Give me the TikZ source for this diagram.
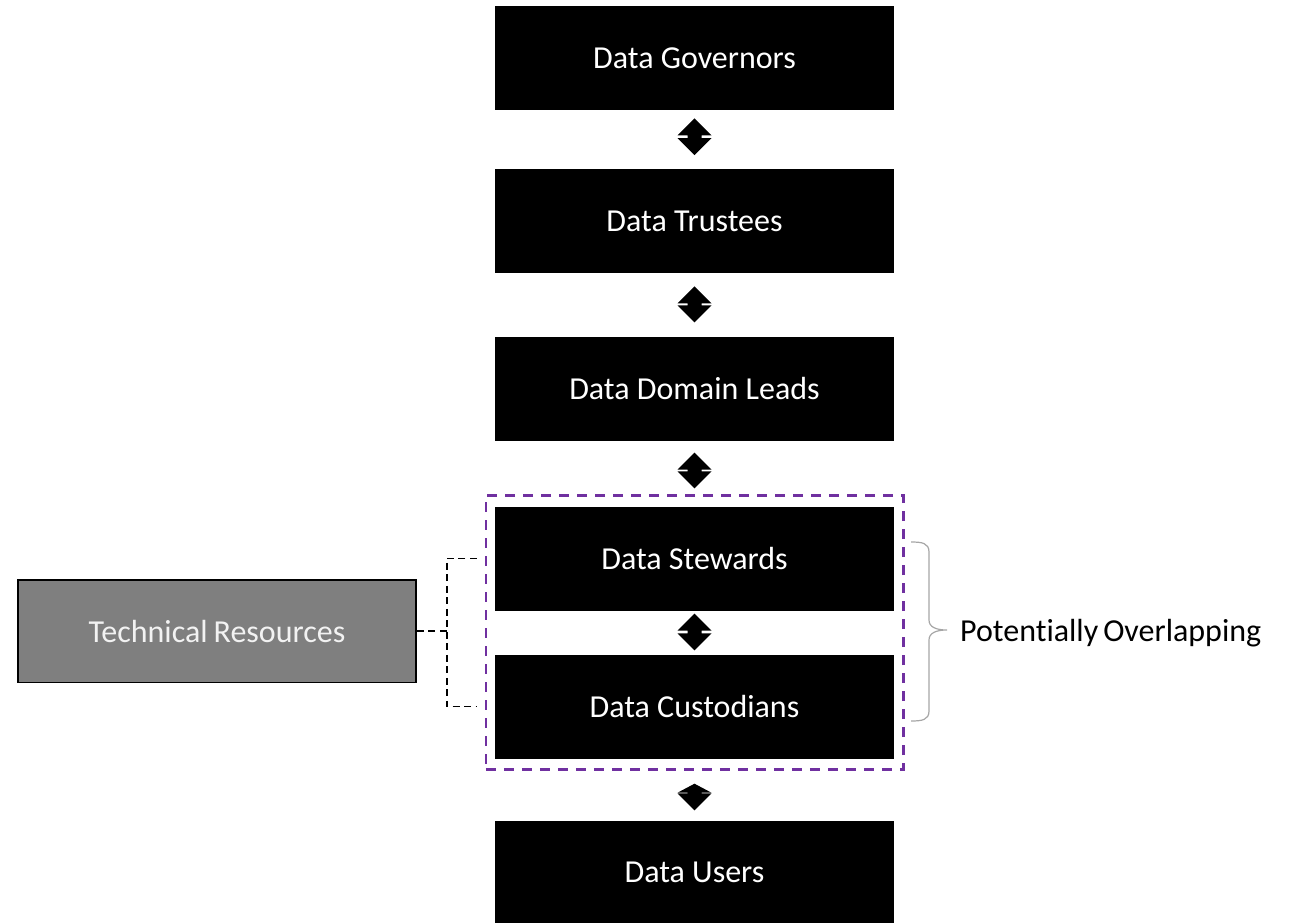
\documentclass[tikz,border=0pt]{standalone}
\usepackage{fontspec}
\setmainfont{Carlito}[Ligatures=NoCommon]
\usetikzlibrary{calc,fit}
\definecolor{grouppurple}{HTML}{7030A0}
\definecolor{techgray}{HTML}{7F7F7F}
\definecolor{techtext}{HTML}{F2F2F2}
\definecolor{bracegray}{HTML}{A6A6A6}
% two-headed block arrow from below node #1 to above node #2:
% #3 gap under #1, #4 gap over #2, #5 height of the upper head
\newcommand\levellink[5]{%
  \path ([yshift=-#3pt]#1.south) coordinate (lkS) ([yshift=#4pt]#2.north) coordinate (lkE);
  \fill[black] (lkS) -- ($(lkS)+(17,#5)$) -- ($(lkS)+(7,#5)$) -- ($(lkE)+(7,-17)$)
    -- ($(lkE)+(17,-17)$) -- (lkE) -- ($(lkE)+(-17,-17)$) -- ($(lkE)+(-7,-17)$)
    -- ($(lkS)+(-7,#5)$) -- ($(lkS)+(-17,#5)$) -- cycle;}
\begin{document}
\begin{tikzpicture}[x=1pt,y=-1pt,
  every node/.style={font=\fontsize{32pt}{38pt}\selectfont},
  role/.style={fill=black, text=white, minimum width=399pt, minimum height=104pt, inner sep=0pt},
  techbox/.style={fill=techgray, draw=black, line width=1.5pt, text=techtext,
    minimum width=398pt, minimum height=102.5pt, inner sep=0pt},
  groupbox/.style={draw=grouppurple, line width=2.6pt, dash pattern=on 10pt off 8pt, inner sep=0pt},
  tie/.style={draw=black, line width=1.8pt, dash pattern=on 7pt off 4.5pt},
  bracelook/.style={draw=bracegray, line width=1.2pt},
]
\useasboundingbox (0,0) rectangle (1291,922);

% governance chain
\node[role] (gov) at (694.5,58.25) {\raisebox{-2pt}{Data Governors}};
\node[role] (tru) at (694.5,221.25) {\raisebox{-2pt}{Data Trustees}};
\node[role] (dom) at (694.5,388.5) {\raisebox{-1pt}{Data Domain Leads}};
\node[role] (ste) at (694.5,558.5) {\raisebox{-1pt}{Data Stewards}};
\node[role] (cus) at (694.5,706.5) {\raisebox{-1pt}{Data Custodians}};
\node[role] (usr) at (694.5,872.5) {\raisebox{-2pt}{Data Users}};

% two-way links between levels
\levellink{gov}{tru}{8}{14}{17}
\levellink{tru}{dom}{13}{14}{17}
\levellink{dom}{ste}{12}{18}{17}
\levellink{ste}{cus}{3}{4}{17}
\levellink{cus}{usr}{25}{10}{9}

% overlapping roles
\node[groupbox, fit=(ste)(cus), inner xsep=9pt, inner ysep=11pt] (grp) {};

% technical resources and their ties
\node[techbox] (tech) at (217,631.3) {Technical\hspace{6pt}Resources};
\coordinate (j) at ([xshift=30pt]tech.east);
\draw[tie] (tech.east) -- (j);
\draw[tie] ([xshift=-18pt]ste.west) -| (j) |- ([xshift=-18pt]cus.west);

% brace and its label
\draw[bracelook] (911,542) .. controls (922,542) and (929,543) .. (929,552)
  -- (929,620) .. controls (929,627) and (936,630) .. (947,630)
  .. controls (936,630) and (929,633) .. (929,640)
  -- (929,711) .. controls (929,720) and (922,721) .. (911,721);
\node[anchor=base west, inner sep=0pt] (lbl) at (960,641) {Potent\kern0pt ially\hspace{5pt}Overlapping};
\end{tikzpicture}
\end{document}
